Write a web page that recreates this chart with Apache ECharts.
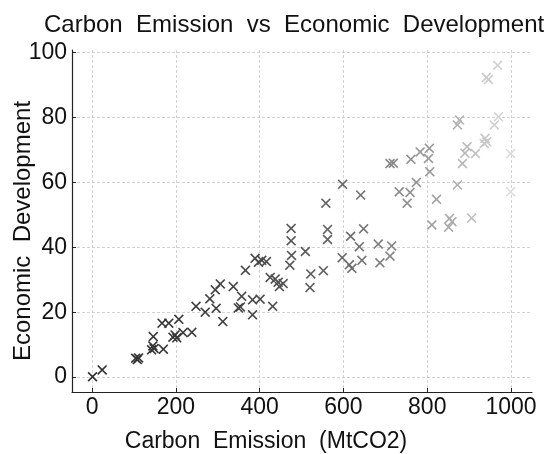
<!DOCTYPE html>
<html>
<head>
<meta charset="utf-8">
<script src="https://cdn.jsdelivr.net/npm/echarts@6/dist/echarts.min.js"></script>
<style>
  html, body { margin: 0; padding: 0; background: #ffffff; }
  #chart { width: 553px; height: 454px; }
</style>
</head>
<body>
<div id="chart"></div>
<script>
// ---- data ----
const emissions = [
  1, 24, 104, 108, 111, 142, 148, 145, 146, 170,
  167, 183, 207, 193, 198, 202, 217, 238, 248, 270,
  281, 294, 306, 296, 312, 337, 357, 349, 354, 366,
  389, 397, 405, 416, 383, 401, 383, 431, 425, 437,
  444, 456, 447, 475, 475, 476, 472, 509, 522, 520,
  552, 558, 562, 562, 598, 641, 617, 648, 638, 597,
  614, 620, 644, 683, 715, 711, 687, 711, 719, 761,
  783, 733, 759, 752, 774, 806, 805, 803, 822, 811,
  853, 859, 851, 906, 872, 884, 895, 890, 915, 938,
  942, 936, 877, 872, 970, 960, 941, 946, 968, 999,
  999
];
const development = [
  0.1, 2.2, 5.8, 5.4, 5.9, 8.4, 8.8, 9.6, 12.5, 8.6,
  16.6, 16.6, 17.8, 12.3, 13.0, 12.1, 13.7, 13.8, 21.8, 20.0,
  24.1, 26.9, 28.7, 21.2, 17.1, 27.9, 24.9, 21.3, 21.6, 32.9,
  36.6, 35.4, 36.0, 35.6, 23.8, 24.0, 19.2, 21.8, 30.7, 30.2,
  29.2, 28.8, 27.9, 45.8, 42.0, 37.5, 34.5, 38.7, 31.8, 27.6,
  32.8, 53.6, 45.5, 42.4, 59.4, 56.1, 43.4, 45.7, 40.2, 36.8,
  34.6, 33.5, 36.0, 41.0, 40.4, 37.3, 35.2, 65.8, 65.9, 67.1,
  69.4, 57.1, 56.9, 53.6, 60.0, 63.3, 70.5, 67.4, 54.8, 46.9,
  48.9, 47.9, 46.2, 49.0, 59.2, 65.8, 71.0, 69.0, 68.9, 73.6,
  72.5, 72.0, 79.2, 77.7, 80.2, 77.7, 92.3, 91.7, 96.1, 68.9,
  57.1
];
const xTicks = [0, 200, 400, 600, 800, 1000];
const yTicks = [0, 20, 40, 60, 80, 100];

// ---- chart ----
const FONT = '"Liberation Sans", Arial, Helvetica, sans-serif';
const points = emissions.map((x, i) => [x, development[i]]);

// filled "x" marker outline (box 0..10, arm width ~1.6)
const X_MARK = 'path://M0,1.13L1.13,0L5,3.87L8.87,0L10,1.13L6.13,5L10,8.87L8.87,10L5,6.13L1.13,10L0,8.87L3.87,5Z';

const chart = echarts.init(document.getElementById('chart'), null, { renderer: 'canvas' });
chart.setOption({
  animation: false,
  backgroundColor: '#ffffff',
  title: {
    text: 'Carbon  Emission  vs  Economic  Development',
    left: 39,
    top: 8,
    textStyle: { fontSize: 24, fontWeight: 'normal', color: '#111111', fontFamily: FONT }
  },
  grid: { left: 72, right: 21, top: 50, bottom: 62, containLabel: false, outerBoundsMode: 'none' },
  visualMap: {
    show: false,
    type: 'continuous',
    seriesIndex: 0,
    dimension: 0,
    min: 0,
    max: 1000,
    inRange: { color: ['#303030', '#383838', '#4a4a4a', '#6a6a6a', '#999999', '#dddddd'] }
  },
  xAxis: {
    type: 'value',
    min: -48,
    max: 1050,
    name: 'Carbon  Emission  (MtCO2)',
    nameLocation: 'middle',
    nameGap: 38,
    nameTextStyle: { fontSize: 23, color: '#111111', fontFamily: FONT, padding: [0, 72, 0, 0] },
    axisLine: { show: true, onZero: false, lineStyle: { color: '#222222', width: 1.2 } },
    axisTick: { show: true, inside: true, length: 4, customValues: xTicks, lineStyle: { color: '#222222', width: 1 } },
    axisLabel: { customValues: xTicks, fontSize: 23, color: '#111111', margin: 4, fontFamily: FONT,
                 formatter: v => String(v) },
    splitLine: { show: true, lineStyle: { color: '#c8c8c8', width: 0.8, type: [3, 2] } }
  },
  yAxis: {
    type: 'value',
    min: -4.6,
    max: 100.8,
    name: 'Economic  Development',
    nameLocation: 'middle',
    nameGap: 37,
    nameMoveOverlap: false,
    nameTextStyle: { fontSize: 24, color: '#111111', fontFamily: FONT, padding: [0, 20, 0, 0] },
    axisLine: { show: true, onZero: false, lineStyle: { color: '#222222', width: 1.2 } },
    axisTick: { show: true, inside: true, length: 4, customValues: yTicks, lineStyle: { color: '#222222', width: 1 } },
    axisLabel: { customValues: yTicks, fontSize: 23, color: '#111111', margin: 5, fontFamily: FONT,
                 formatter: v => String(v) },
    splitLine: { show: true, lineStyle: { color: '#c8c8c8', width: 0.8, type: [3, 2] } }
  },
  series: [{
    type: 'scatter',
    data: points,
    symbol: X_MARK,
    symbolSize: 10,
    itemStyle: { opacity: 1 }
  }]
});
</script>
</body>
</html>
